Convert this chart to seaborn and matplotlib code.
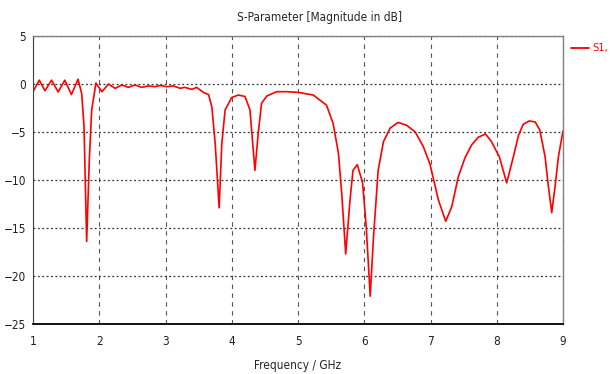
import pandas as pd
import seaborn as sns
import matplotlib.pyplot as plt

# S1,1 magnitude
freq_ghz = [1.00, 1.095, 1.18, 1.28, 1.38, 1.48, 1.58, 1.68, 1.735, 1.77, 1.81,
            1.85, 1.886, 1.95, 2.04, 2.14, 2.24, 2.34, 2.44, 2.54, 2.64, 2.74,
            2.84, 2.92, 3.02, 3.12, 3.22, 3.29, 3.40, 3.47, 3.57, 3.65, 3.70,
            3.75, 3.81, 3.85, 3.90, 4.00, 4.10, 4.20, 4.275, 4.35, 4.40, 4.45,
            4.53, 4.68, 4.83, 5.00, 5.23, 5.43, 5.53, 5.61, 5.66, 5.72, 5.785,
            5.83, 5.895, 5.975, 6.03, 6.09, 6.14, 6.21, 6.29, 6.39, 6.51, 6.64,
            6.77, 6.89, 6.99, 7.12, 7.23, 7.32, 7.42, 7.52, 7.62, 7.72, 7.83,
            7.92, 8.04, 8.15, 8.25, 8.33, 8.40, 8.49, 8.58, 8.65, 8.73, 8.78,
            8.83, 8.88, 8.93, 9.00]
s11_db = [-0.8, 0.4, -0.7, 0.4, -0.83, 0.4, -1.1, 0.5, -1.0, -4.4, -16.4,
          -7.9, -2.7, 0.1, -0.8, 0.0, -0.45, -0.1, -0.35, -0.1, -0.35, -0.2,
          -0.28, -0.15, -0.28, -0.2, -0.45, -0.35, -0.56, -0.35, -0.87, -1.1, -2.4,
          -6.2, -12.9, -6.2, -2.7, -1.4, -1.15, -1.3, -2.7, -9.0, -5.1, -2.0,
          -1.25, -0.8, -0.8, -0.87, -1.15, -2.2, -4.1, -7.2, -11.4, -17.7, -12.1,
          -9.0, -8.4, -10.3, -14.9, -22.1, -15.9, -9.0, -6.0, -4.6, -4.0, -4.3,
          -5.0, -6.5, -8.3, -12.1, -14.3, -12.8, -9.65, -7.7, -6.35, -5.55, -5.2,
          -6.0, -7.6, -10.3, -7.6, -5.3, -4.2, -3.85, -3.95, -4.8, -7.6, -10.7,
          -13.4, -10.7, -7.6, -4.9]

x_ticks = [1, 2, 3, 4, 5, 6, 7, 8, 9]
y_ticks = [-25, -20, -15, -10, -5, 0, 5]

df = pd.DataFrame({'freq': freq_ghz, 's11': s11_db})

sns.set_style('white')
plt.rcParams['font.family'] = ['DejaVu Sans']
plt.rcParams['font.stretch'] = 'condensed'

fig = plt.figure(figsize=(6.10, 3.74), dpi=100)
ax = fig.add_axes([33 / 610, 1 - 324 / 374, 530 / 610, 288 / 374])

sns.lineplot(data=df, x='freq', y='s11', color='#ff0000', linewidth=1.2, ax=ax)

ax.set_xlim(1, 9)
ax.set_ylim(-25, 5)
ax.set_xticks(x_ticks)
ax.set_yticks(y_ticks)
ax.tick_params(labelsize=8.5, length=3, width=0.8, pad=2, colors='#202020')
ax.tick_params(axis='x', pad=5)
ax.xaxis.grid(True, linestyle=(0, (4, 4)), color='#555555', linewidth=0.8)
ax.yaxis.grid(True, linestyle=(0, (1.5, 2)), color='#333333', linewidth=0.9)

for side in ['top', 'right']:
    ax.spines[side].set_color('#808080')
    ax.spines[side].set_linewidth(1.0)
ax.spines['left'].set_color('#404040')
ax.spines['bottom'].set_color('black')
ax.spines['bottom'].set_linewidth(1.3)

ax.set_xlabel('Frequency / GHz', fontsize=8.5, labelpad=8)
ax.set_ylabel('')
fig.text(0.5 + 14 / 610, 1 - 18 / 374, 'S-Parameter [Magnitude in dB]',
         ha='center', va='center', fontsize=8.5)

# legend entry at the right edge, as in the reference
fig.add_artist(plt.Line2D([571 / 610, 589 / 610], [1 - 48 / 374, 1 - 48 / 374],
                          color='#ff0000', linewidth=1.3))
fig.text(592 / 610, 1 - 48 / 374, 'S1,', color='#ff0000', fontsize=8,
         ha='left', va='center')

plt.savefig('out.png', dpi=100)
